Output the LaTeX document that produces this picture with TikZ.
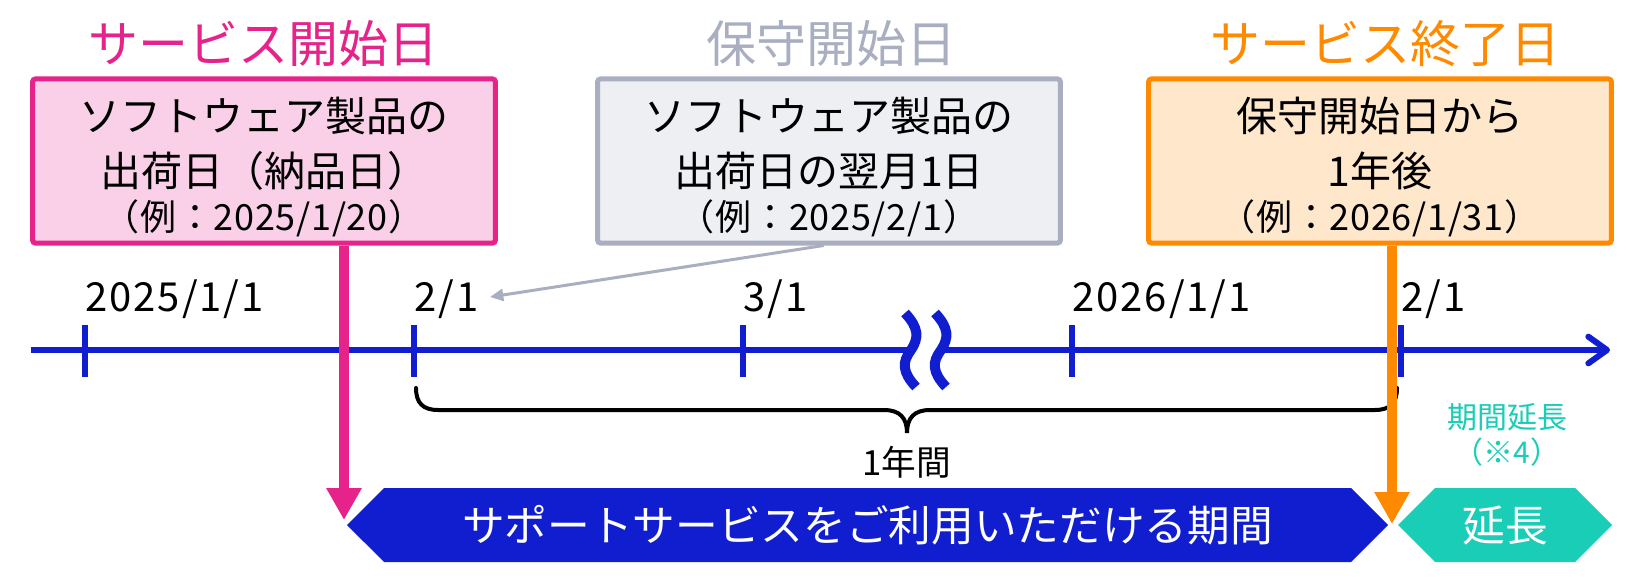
\documentclass[tikz,border=0pt]{standalone}
\usepackage{fontspec}
\setmainfont{Noto Sans CJK JP}
\newfontfamily\spacedfont[LetterSpace=5]{Noto Sans CJK JP}
\newfontfamily\exfont[LetterSpace=2]{Noto Sans CJK JP}
\usetikzlibrary{arrows.meta,shapes.symbols}
\definecolor{pinkc}{HTML}{E6228B}
\definecolor{pinkf}{HTML}{F9D0E7}
\definecolor{greyc}{HTML}{A9AFC1}
\definecolor{greyf}{HTML}{EEEFF3}
\definecolor{orangec}{HTML}{FF8A00}
\definecolor{orangef}{HTML}{FFE7CC}
\definecolor{bluec}{HTML}{101ED0}
\definecolor{tealc}{HTML}{19CDB6}
\newcommand\myfs[1]{\fontsize{#1}{#1}\selectfont}
\begin{document}
\begin{tikzpicture}[x=0.75pt,y=-0.75pt,
  datebox/.style={draw=#1, line width=3.75pt, rounded corners=2pt,
    minimum width=347pt, minimum height=123pt, inner sep=0pt},
  titletxt/.style={anchor=base, font=\myfs{37.5}, text=#1, inner sep=0pt},
  boxtxt/.style={anchor=base, font=\myfs{30.75}, inner sep=0pt},
  extxt/.style={anchor=base, font=\exfont\myfs{27}, inner sep=0pt},
  datetxt/.style={anchor=base west, font=\spacedfont\myfs{30}, inner sep=0pt},
  axisline/.style={draw=bluec, line width=4.5pt},
  tickline/.style={draw=bluec, line width=4.5pt},
  wave/.style={draw=bluec, line width=7.5pt},
  bigarrow/.style={draw=#1, line width=7.5pt, -{Triangle[length=24pt,width=25pt,fill=#1]}},
  bracel/.style={draw=black, line width=3pt, line cap=round},
  band/.style={signal, signal to=west and east, signal pointer angle=90,
    fill=#1, text=white, inner sep=0pt, minimum height=55.5pt, font=\myfs{32}},
]
\useasboundingbox (0,0) rectangle (1635,585);

% titles
\node[titletxt=pinkc] (t1) at (263,63) {サービス開始日};
\node[titletxt=greyc] (t2) at (831,63) {保守開始日};
\node[titletxt=orangec] (t3) at (1385,63) {サービス終了日};

% boxes
\node[datebox=pinkc, fill=pinkf] (pinkbox) at (264,161) {};
\node[datebox=greyc, fill=greyf] (greybox) at (829,161) {};
\node[datebox=orangec, fill=orangef] (orangebox) at (1380,161) {};

\node[boxtxt] (p1) at (264,131.5) {ソフトウェア製品の};
\node[boxtxt] (p2) at (264,186.5) {出荷日（納品日）};
\node[extxt] (p3) at (264,230) {（例：2025/1/20）};

\node[boxtxt] (g1) at (829,131.5) {ソフトウェア製品の};
\node[boxtxt] (g2) at (829,186.5) {出荷日の翌月1日};
\node[extxt] (g3) at (829,230) {（例：2025/2/1）};

\node[boxtxt] (o1) at (1380,131.5) {保守開始日から};
\node[boxtxt] (o2) at (1380,186.5) {1年後};
\node[extxt] (o3) at (1380,230) {（例：2026/1/31）};

% axis
\coordinate (axs) at (31,350);
\coordinate (axe) at (1610,350);
\draw[axisline, -{Straight Barb[length=14pt,width=20pt,line cap=round,line join=round]}] (axs) -- (axe);
\draw[white, line width=6pt] (909,350) -- (945,350);
\draw[wave] (905,313) .. controls (919,328) and (919,338) .. (911,350) .. controls (902,362) and (902,372) .. (916,387);
\draw[wave] (935,313) .. controls (949,328) and (949,338) .. (941,350) .. controls (932,362) and (932,372) .. (946,387);

% ticks
\foreach \x in {85,414,743,1072,1401} \draw[tickline] (\x,325) -- (\x,377);

% date labels
\node[datetxt] (d1) at (85,311) {2025/1/1};
\node[datetxt] (d2) at (414,311) {2/1};
\node[datetxt] (d3) at (743,311) {3/1};
\node[datetxt] (d4) at (1072,311) {2026/1/1};
\node[datetxt] (d5) at (1401,311) {2/1};

% brace
\draw[bracel] (416,388) .. controls (416,403) and (423,410) .. (438,410) -- (884,410)
  .. controls (900,410) and (907,418) .. (907,433)
  .. controls (907,418) and (914,410) .. (930,410) -- (1375,410)
  .. controls (1390,410) and (1397,403) .. (1397,388);
\node[anchor=base, font=\myfs{26}, inner sep=0pt] (year) at (907,475) {1年間};

% bands
\node[band=bluec, minimum width=780.75pt] (blueband) at (867.5,525) {サポートサービスをご利用いただける期間};
\node[band=tealc, minimum width=160.5pt] (tealband) at (1505,525) {延長};
\node[anchor=base, font=\myfs{22.5}, text=tealc, inner sep=0pt] (ext1) at (1507,428) {期間延長};
\node[anchor=base, font=\myfs{22.5}, text=tealc, inner sep=0pt] (ext2) at (1507,463) {（※4）};

% arrows
\coordinate (ptip) at (344,520);
\coordinate (otip) at (1392,524);
\coordinate (gtip) at (490,297);
\draw[bigarrow=pinkc] (pinkbox.south -| ptip) -- (ptip);
\draw[bigarrow=orangec] (orangebox.south -| otip) -- (otip);
\draw[greyc, line width=2.25pt, -{Triangle[length=10pt,width=9pt]}] ([xshift=-4pt]greybox.south) -- (gtip);
\end{tikzpicture}
\end{document}
